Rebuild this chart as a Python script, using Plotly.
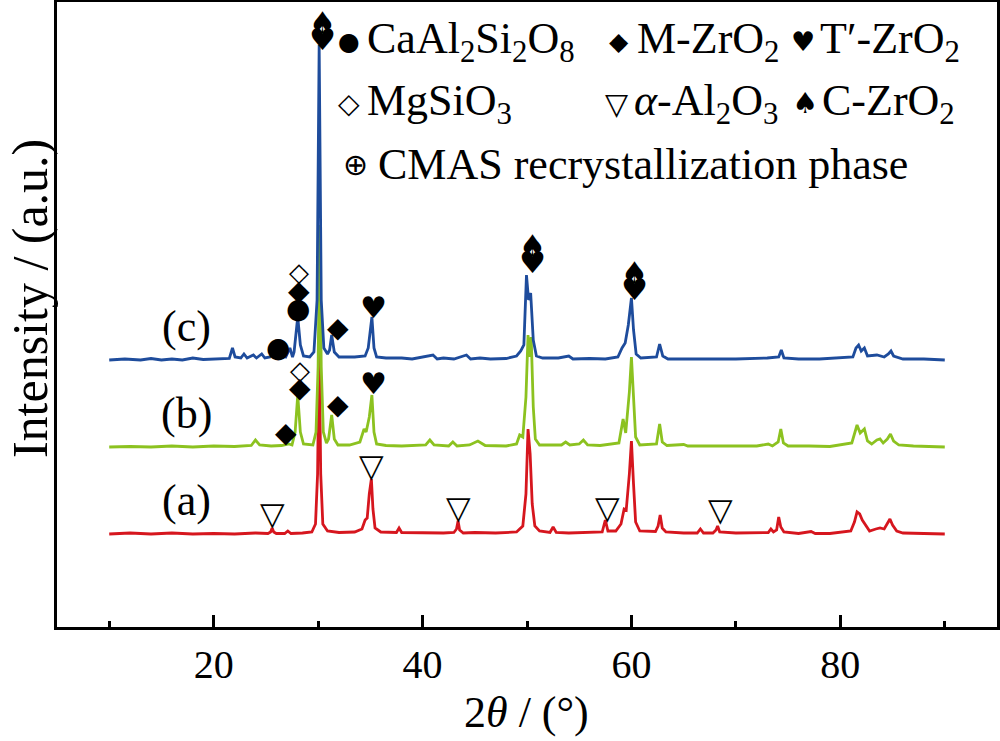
import plotly.graph_objects as go

# ---------------- data ----------------
# 2theta (deg) / intensity above each pattern's own baseline (a.u.)
x_a = [10, 12, 14, 16, 18, 20, 22, 24, 25.2, 25.45, 25.6, 25.75, 26.0, 26.8, 27.1, 27.4, 28.5, 29.4,
       29.75, 29.95, 30.1, 30.25, 30.45, 30.9, 32, 33.5, 34.2, 34.5, 34.7, 34.9, 35.1, 35.25, 35.45,
       36, 37.5, 37.75, 38.0, 40, 42, 43.0, 43.25, 43.4, 43.55, 43.9, 45, 47, 49, 49.6, 49.9, 50.1,
       50.3, 50.5, 50.75, 51.2, 52.2, 52.5, 52.8, 54, 56, 57.2, 57.5, 57.75, 58.5, 59.0, 59.3, 59.5,
       59.8, 60.0, 60.2, 60.4, 60.8, 62.3, 62.55, 62.75, 62.95, 63.3, 65, 66.3, 66.6, 66.9, 67.8,
       68.1, 68.25, 68.45, 70, 72, 73.1, 73.35, 73.6, 73.9, 74.1, 74.3, 74.6, 76, 77.2, 77.6, 79, 81,
       81.35, 81.6, 81.85, 82.1, 82.4, 82.8, 83.4, 83.8, 84.2, 84.5, 84.75, 85.0, 85.4, 86, 88, 90]
y_a = [0, 1, 0, 1, 0, 0.5, 0, 1, 0.5, 2, 6, 2, 0.5, 0.5, 3, 0.5, 1, 2,
       10, 60, 191, 60, 10, 3, 1.5, 2, 5, 14, 16, 40, 55, 25, 6,
       2, 1.5, 6, 1.5, 1, 1, 1.5, 5, 13, 4, 1, 1.5, 1, 2, 8, 40, 105,
       80, 30, 8, 3, 1.5, 7, 1.5, 1, 1.5, 2, 14, 3, 3, 10, 25, 24,
       60, 93, 50, 12, 3, 2.5, 8, 19, 6, 2, 1, 1, 5, 1, 1,
       4, 8, 2, 1, 1, 1.5, 5, 2, 4, 17, 7, 2, 0.5, 2.5, 0.5, 0.5, 3,
       12, 22, 20, 14, 9, 3, 5, 6, 5, 10, 15, 9, 3, 1, 0.5, 0]

x_b = [10, 12, 14, 16, 18, 20, 22, 23.6, 24.0, 24.4, 25.5, 26.5, 27.2, 27.5, 27.8, 28.05, 28.3, 28.6,
       29.5, 29.8, 30.0, 30.15, 30.3, 30.5, 30.8, 31.0, 31.3, 31.55, 31.9, 33, 34.0, 34.4, 34.6, 34.9,
       35.15, 35.35, 35.6, 36.5, 38, 40.3, 40.7, 41.1, 42.5, 42.9, 43.3, 44.5, 45.3, 46, 48, 49.0,
       49.3, 49.6, 49.9, 50.1, 50.25, 50.4, 50.6, 50.8, 51.2, 53.3, 53.7, 54.1, 55.0, 55.4, 55.8, 57,
       58.8, 59.2, 59.45, 59.8, 60.0, 60.2, 60.4, 60.8, 62.4, 62.7, 62.95, 63.4, 65, 65.4, 67, 70, 72,
       73.1, 73.5, 74.05, 74.3, 74.55, 75, 77, 79, 81.1, 81.4, 81.6, 81.9, 82.3, 82.6, 83.0, 83.5,
       83.8, 84.1, 84.5, 84.8, 85.1, 85.6, 87, 90]
y_b = [0, 0.5, 0, 1, 0, 1, 0.5, 1.5, 7, 2, 1, 1.5, 3, 2, 15, 52, 15, 3,
       2, 15, 80, 222, 80, 15, 4, 8, 32, 8, 2, 2, 5, 18, 15, 30,
       52, 15, 3, 1.5, 1, 2, 7, 2, 1, 5, 1, 2, 6, 1.5, 1, 3,
       12, 10, 50, 112, 90, 110, 40, 8, 2, 2, 5, 2, 3, 7, 2, 1.5,
       4, 28, 14, 55, 90, 50, 10, 2, 3, 23, 5, 1.5, 2.5, 1, 1, 0.5, 1,
       3, 1, 5, 18, 4, 1, 1, 0.5, 4, 14, 22, 14, 18, 6, 3, 7,
       8, 4, 8, 13, 6, 2, 1, 0]

x_c = [10, 11.5, 13, 14, 15, 16, 17, 18, 19, 20, 21.5, 21.8, 22.05, 22.6, 22.9, 23.2, 23.8, 24.1,
       24.6, 24.9, 25.4, 25.7, 26.0, 26.6, 26.9, 27.3, 27.55, 27.7, 28.05, 28.3, 28.6, 29.2, 29.6,
       29.9, 30.1, 30.3, 30.55, 30.9, 31.1, 31.3, 31.55, 32, 33.5, 34.5, 34.8, 35.15, 35.35, 35.6,
       36.5, 38, 39, 41.0, 41.4, 42, 43, 44.2, 44.6, 45.5, 46.5, 48, 49.0, 49.4, 49.7, 49.95, 50.15,
       50.35, 50.6, 50.9, 51.5, 53, 54, 54.4, 56, 57.5, 58.7, 59.1, 59.4, 59.7, 60.0, 60.2, 60.45,
       60.9, 62.4, 62.7, 63.0, 63.5, 66, 70, 73, 74.1, 74.35, 74.6, 76, 78, 81.2, 81.5, 81.75, 82.0,
       82.3, 82.6, 83.5, 84.2, 84.6, 84.85, 85.1, 86, 88, 90]
y_c = [0, 1, 0, 1.5, 0, 1, 0, 2, 0.5, 1, 1.5, 12, 3, 2, 6, 2, 5, 2,
       6, 2, 3, 7, 2, 4, 3, 12, 3, 8, 43, 15, 4, 3, 8,
       60, 315, 60, 12, 6, 10, 25, 8, 3, 3, 4, 12, 43, 12, 3,
       2, 2, 1, 5, 1, 2, 1, 5, 1, 2, 1, 1.5, 4, 9, 15, 85, 60,
       67, 20, 4, 2, 2, 4, 1, 1.5, 1, 3, 12, 17, 35, 62, 30, 6,
       2, 3, 16, 4, 1, 1, 1, 2, 3, 10, 2, 1, 1, 3, 12, 15, 9,
       12, 4, 5, 3, 6, 9, 4, 1, 1, 0]

offsets = {"a": 93, "b": 180, "c": 267}          # vertical stacking of the patterns
pattern_labels = ["(a)", "(b)", "(c)"]

# phase markers: (symbol, 2theta, height on the stacked scale)
markers = [
    ("▽", 25.6, 113), ("▽", 35.1, 161), ("▽", 43.4, 119), ("▽", 57.7, 119), ("▽", 68.5, 117),
    ("◆", 26.9, 195), ("◆", 28.3, 240), ("◇", 28.3, 257), ("◆", 31.9, 223), ("♥", 35.3, 244),
    ("●", 26.2, 280), ("●", 28.1, 319), ("◆", 28.2, 337), ("◇", 28.2, 355), ("◆", 31.9, 300),
    ("♥", 35.3, 320),
    ("♠", 30.4, 605), ("♥", 30.4, 588),
    ("♠", 50.5, 382), ("♥", 50.5, 365),
    ("♠", 60.3, 355), ("♥", 60.3, 338),
]

# legend of phases: (symbol, text, 2theta of symbol, height)
legend_items = [
    ("●", "CaAl<sub>2</sub>Si<sub>2</sub>O<sub>8</sub>", 33.0, 586),
    ("◆", "M-ZrO<sub>2</sub>", 58.8, 586),
    ("♥", "T′-ZrO<sub>2</sub>", 76.4, 586),
    ("◇", "MgSiO<sub>3</sub>", 33.0, 524),
    ("▽", "<i>α</i>-Al<sub>2</sub>O<sub>3</sub>", 58.6, 524),
    ("♠", "C-ZrO<sub>2</sub>", 76.6, 524),
    ("⊕", "CMAS recrystallization phase", 33.6, 463),
]

x_ticks = [20, 40, 60, 80]
x_minor = [10, 30, 50, 70, 90]

# ---------------- styling ----------------
colors = {"a": "rgb(214,22,30)", "b": "rgb(140,194,32)", "c": "rgb(30,76,156)"}
SERIF = "Liberation Serif, Times New Roman, serif"
SYM = "DejaVu Sans"

fig = go.Figure()
for key, xs, ys in [("a", x_a, y_a), ("b", x_b, y_b), ("c", x_c, y_c)]:
    fig.add_trace(go.Scatter(
        x=xs, y=[v + offsets[key] for v in ys], mode="lines",
        line=dict(color=colors[key], width=2.8), showlegend=False, hoverinfo="skip"))

ann = []
for lab, key in zip(pattern_labels, ["a", "b", "c"]):
    ann.append(dict(x=17.4, y=offsets[key] + 34, text=lab, showarrow=False,
                    font=dict(family=SERIF, size=44, color="black"),
                    xanchor="center", yanchor="middle"))
sym_sizes = {"▽": 32, "◆": 28, "◇": 26, "●": 28, "♥": 30, "♠": 30, "⊕": 28}
leg_sizes = {"▽": 30, "◆": 25, "◇": 28, "●": 25, "♥": 27, "♠": 29, "⊕": 30}
for s, xv, yv in markers:
    ann.append(dict(x=xv, y=yv, text=s, showarrow=False,
                    font=dict(family=SYM, size=sym_sizes[s], color="black"),
                    xanchor="center", yanchor="middle"))
for s, t, xv, yv in legend_items:
    ann.append(dict(x=xv, y=yv, text=s, showarrow=False,
                    font=dict(family=SYM, size=leg_sizes[s], color="black"),
                    xanchor="center", yanchor="middle"))
    gap = 1.9 if s == "⊕" else 1.5
    ann.append(dict(x=xv + gap, y=yv, text=t, showarrow=False,
                    font=dict(family=SERIF, size=44, color="black"),
                    xanchor="left", yanchor="middle"))

ann.append(dict(xref="paper", yref="paper", x=-0.0285, y=0.525, text="Intensity / (a.u.)",
                textangle=-90, showarrow=False, font=dict(family=SERIF, size=50, color="black"),
                xanchor="center", yanchor="middle"))
ann.append(dict(xref="paper", yref="paper", x=0.499, y=-0.136, text="2<i>θ</i> / (°)",
                showarrow=False, font=dict(family=SERIF, size=44, color="black"),
                xanchor="center", yanchor="middle"))

fig.update_layout(
    width=1000, height=741,
    margin=dict(l=57, r=3, t=2, b=114),
    paper_bgcolor="white", plot_bgcolor="white",
    annotations=ann,
    xaxis=dict(range=[5, 95], tickvals=x_ticks, ticktext=[str(v) for v in x_ticks],
               ticks="inside", ticklen=12, tickwidth=2.5, tickcolor="black",
               minor=dict(tickvals=x_minor, ticks="inside", ticklen=6, tickwidth=2.5,
                          tickcolor="black"),
               showline=True, linecolor="black", linewidth=3, mirror=True,
               showgrid=False, zeroline=False, automargin=False,
               tickfont=dict(family=SERIF, size=40, color="black")),
    yaxis=dict(range=[0, 625], showticklabels=False, ticks="", showline=True,
               linecolor="black", linewidth=3, mirror=True, showgrid=False, zeroline=False,
               automargin=False),
)

fig.write_html("out.html", config={"displayModeBar": False},
               post_script="document.body.style.margin='0';")
